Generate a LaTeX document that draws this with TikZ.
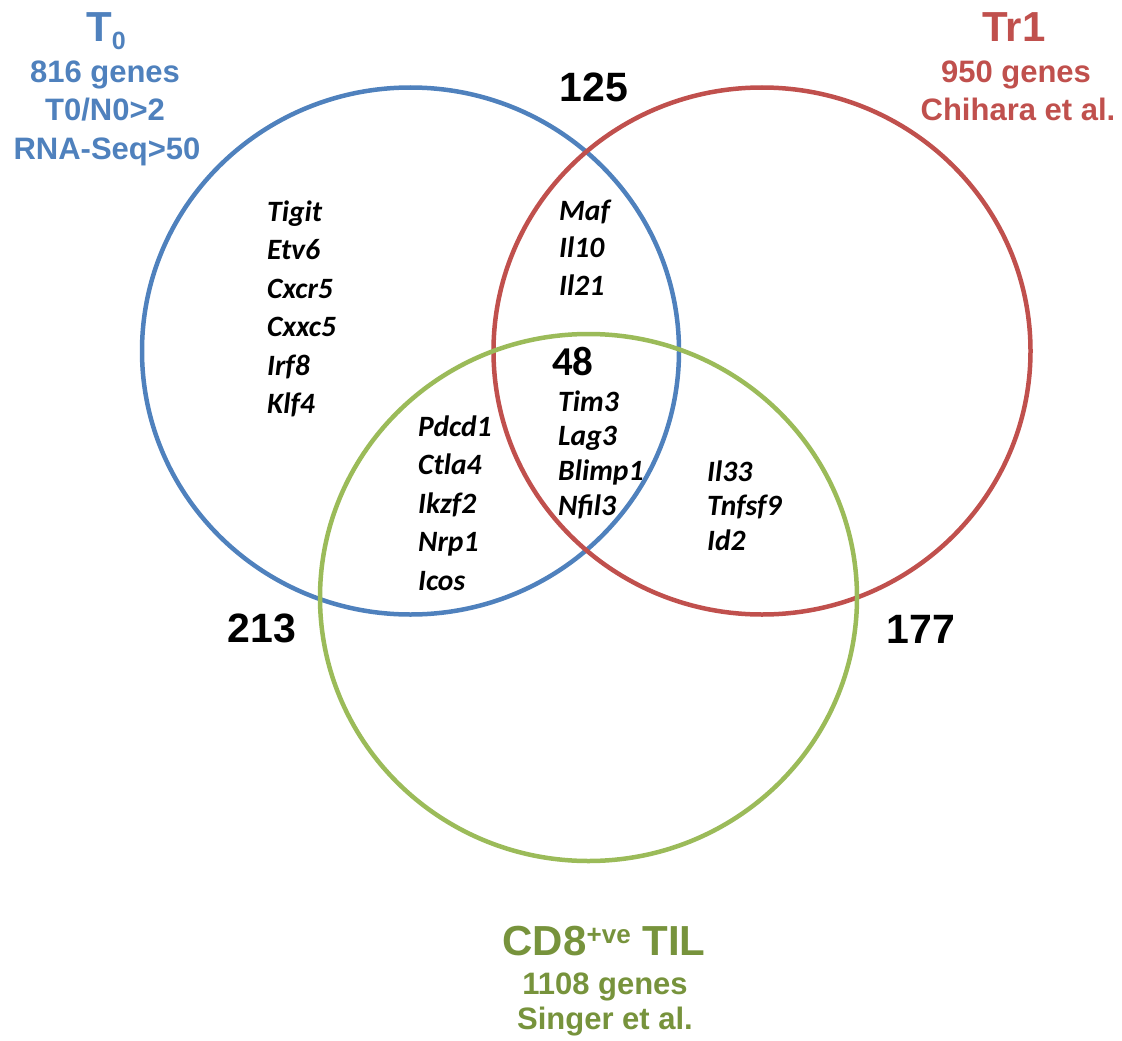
\documentclass[tikz,border=0pt]{standalone}
\usepackage{fontspec}
\setmainfont{Liberation Sans}
\newfontfamily\genefont{Carlito}
\usetikzlibrary{shapes.geometric}
\definecolor{tzero}{HTML}{4F81BD}
\definecolor{trone}{HTML}{C0504D}
\definecolor{til}{HTML}{9BBB59}
\definecolor{tiltext}{HTML}{77933C}
\tikzset{
  venn/.style={ellipse, draw, line width=4.5pt, inner sep=0pt,
               minimum width=537pt, minimum height=527pt},
  title/.style={font=\fontsize{42}{42}\selectfont\bfseries,
                anchor=base, inner sep=0pt},
  sub/.style={font=\fontsize{31}{31}\selectfont\bfseries,
              anchor=base, inner sep=0pt},
  count/.style={font=\fontsize{41}{41}\selectfont\bfseries,
                anchor=base, inner sep=0pt},
  gene/.style={font=\genefont\fontsize{29.5}{29.5}\selectfont\bfseries\itshape,
               anchor=base west, inner sep=0pt},
}
\begin{document}
\begin{tikzpicture}[x=1pt, y=-1pt]
  \useasboundingbox (0,0) rectangle (1122,1041);

  % the three sets
  \node[venn, draw=tzero] (setT) at (410.5,351) {};
  \node[venn, draw=trone] (setR) at (762,351) {};
  \node[venn, draw=til]   (setG) at (588.5,597.5) {};

  % set titles
  \node[title, text=tzero] (tT) at (106,42)
       {T\raisebox{-8pt}{\fontsize{25}{25}\selectfont 0}};
  \node[sub, text=tzero] (tT1) at (105,82)  {816 genes};
  \node[sub, text=tzero] (tT2) at (105,120) {T0/N0>2};
  \node[sub, text=tzero] (tT3) at (107,159) {RNA-Seq>50};

  \node[title, text=trone] (tR) at (1014,42) {Tr1};
  \node[sub, text=trone] (tR1) at (1016,83)  {950 genes};
  \node[sub, text=trone] (tR2) at (1018,120) {Chihara et al.};

  \node[title, text=tiltext] (tG) at (604,955)
       {CD8\raisebox{12pt}{\fontsize{26}{26}\selectfont +ve} TIL};
  \node[sub, text=tiltext] (tG1) at (605,994)  {1108 genes};
  \node[sub, text=tiltext] (tG2) at (605,1029) {Singer et al.};

  % counts
  \node[count] (n125) at (594,102) {125};
  \node[count] (n213) at (262,642) {213};
  \node[count] (n177) at (921,643) {177};
  \node[gene, font=\genefont\fontsize{41}{41}\selectfont\bfseries]
       (n48) at (552,375.5) {48};

  % gene lists
  \foreach \g [count=\i from 0] in {Tigit,Etv6,Cxcr5,Cxxc5,Irf8,Klf4}
    \node[gene] (\g) at (267,221+38.5*\i) {\g};
  \foreach \g [count=\i from 0] in {Maf,Il10,Il21}
    \node[gene] (\g) at (559,220+37.5*\i) {\g};
  \foreach \g [count=\i from 0] in {Tim3,Lag3,Blimp1,Nfil3}
    \node[gene] (\g) at (558,411+34.9*\i) {\g};
  \foreach \g [count=\i from 0] in {Pdcd1,Ctla4,Ikzf2,Nrp1,Icos}
    \node[gene] (\g) at (418,436+38.6*\i) {\g};
  \foreach \g [count=\i from 0] in {Il33,Tnfsf9,Id2}
    \node[gene] (\g) at (707,481+34.6*\i) {\g};
\end{tikzpicture}
\end{document}
